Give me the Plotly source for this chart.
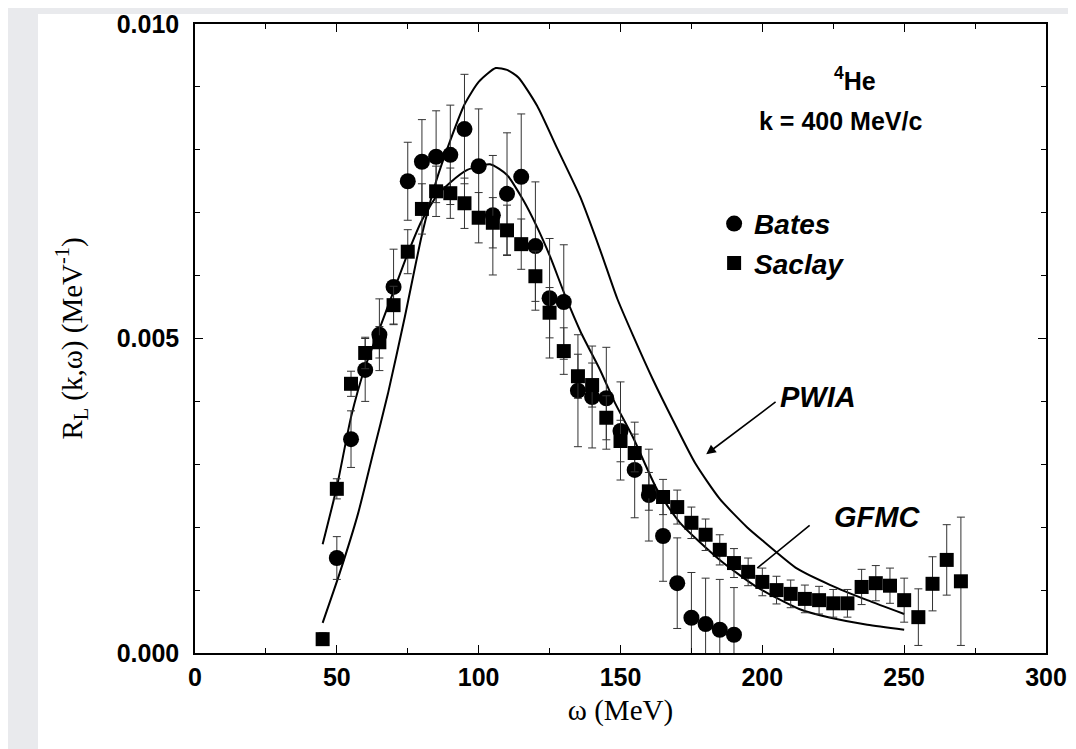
import plotly.graph_objects as go

# ---------------- data ----------------
bates_w = [50, 55, 60, 65, 70, 75, 80, 85, 90, 95, 100, 105, 110, 115, 120, 125, 130,
           135, 140, 145, 150, 155, 160, 165, 170, 175, 180, 185, 190]
bates_r = [0.00151, 0.00340, 0.00450, 0.00506, 0.00582, 0.00750, 0.00781, 0.00789,
           0.00792, 0.00833, 0.00774, 0.00696, 0.00730, 0.00757, 0.00647, 0.00564,
           0.00558, 0.00417, 0.00407, 0.00405, 0.00353, 0.00291, 0.00251, 0.00186,
           0.00111, 0.00056, 0.00046, 0.00037, 0.00029]
bates_err = [0.00034, 0.00045, 0.00050, 0.00057, 0.00060, 0.00062, 0.00067, 0.00073,
             0.00079, 0.00087, 0.00091, 0.00095, 0.00097, 0.00100, 0.00102, 0.00095,
             0.00091, 0.00089, 0.00081, 0.00081, 0.00078, 0.00076, 0.00073, 0.00072,
             0.00072, 0.00072, 0.00073, 0.00080, 0.00075]

saclay_w = [45, 50, 55, 60, 65, 70, 75, 80, 85, 90, 95, 100, 105, 110, 115, 120, 125,
            130, 135, 140, 145, 150, 155, 160, 165, 170, 175, 180, 185, 190, 195, 200,
            205, 210, 215, 220, 225, 230, 235, 240, 245, 250, 255, 260, 265, 270]
saclay_r = [0.00022, 0.00261, 0.00428, 0.00477, 0.00494, 0.00553, 0.00638, 0.00706,
            0.00734, 0.00731, 0.00715, 0.00692, 0.00684, 0.00672, 0.00650, 0.00599,
            0.00541, 0.00480, 0.00440, 0.00426, 0.00374, 0.00337, 0.00318, 0.00257,
            0.00248, 0.00232, 0.00207, 0.00188, 0.00164, 0.00143, 0.00129, 0.00113,
            0.00100, 0.00094, 0.00086, 0.00084, 0.00079, 0.00079, 0.00105, 0.00111,
            0.00107, 0.00084, 0.00057, 0.00110, 0.00148, 0.00114]
saclay_err = [0.00010, 0.00016, 0.00020, 0.00025, 0.00025, 0.00030, 0.00035, 0.00040,
              0.00040, 0.00040, 0.00040, 0.00040, 0.00040, 0.00040, 0.00040, 0.00040,
              0.00040, 0.00037, 0.00035, 0.00035, 0.00035, 0.00033, 0.00030, 0.00030,
              0.00028, 0.00027, 0.00025, 0.00025, 0.00024, 0.00023, 0.00022, 0.00022,
              0.00022, 0.00022, 0.00022, 0.00022, 0.00022, 0.00022, 0.00028, 0.00028,
              0.00028, 0.00035, 0.00045, 0.00043, 0.00056, 0.00102]

gfmc_w = [45, 50, 55, 60, 65, 70, 75, 80, 85, 90, 96, 104, 110, 115.7, 120.6, 125.2,
          130.5, 136, 142.8, 148, 154.4, 163, 171, 185, 198, 213, 224, 237, 250]
gfmc_r = [0.00173, 0.00264, 0.00375, 0.00455, 0.00515, 0.00575, 0.00635, 0.00688,
          0.00725, 0.00748, 0.00768, 0.00777, 0.00760, 0.00720, 0.00677, 0.00630,
          0.00568, 0.00510, 0.00450, 0.00398, 0.00343, 0.00259, 0.00207, 0.00148,
          0.00105, 0.00070, 0.00056, 0.00045, 0.00037]

pwia_w = [45, 51, 57.5, 62.8, 68, 74, 80, 85, 90, 95, 100, 106, 110, 114, 120.6, 127.6,
          135.8, 142.8, 148.8, 154.4, 161.5, 168.5, 176.3, 185, 194.6, 200.3, 212.3, 224,
          237, 250]
pwia_r = [0.00048, 0.00127, 0.00222, 0.00318, 0.00412, 0.00535, 0.00665, 0.00750,
          0.00815, 0.00872, 0.00908, 0.00930, 0.00927, 0.00915, 0.00870, 0.00803,
          0.00725, 0.00641, 0.00564, 0.00505, 0.00434, 0.00370, 0.00302, 0.00245,
          0.00200, 0.00178, 0.00134, 0.00108, 0.00084, 0.00062]

x_ticks = [0, 50, 100, 150, 200, 250, 300]
y_ticks = [0.000, 0.005, 0.010]

# ---------------- figure ----------------
fig = go.Figure()

line_style = dict(color="black", width=2, shape="spline", smoothing=0.6)
fig.add_trace(go.Scatter(x=pwia_w, y=pwia_r, mode="lines", line=line_style,
                         showlegend=False, hoverinfo="skip"))
fig.add_trace(go.Scatter(x=gfmc_w, y=gfmc_r, mode="lines", line=line_style,
                         showlegend=False, hoverinfo="skip"))

fig.add_trace(go.Scatter(
    x=bates_w, y=bates_r, mode="markers", name="Bates",
    marker=dict(symbol="circle", size=16, color="black"),
    error_y=dict(type="data", array=bates_err, color="#333333", thickness=1, width=4),
))
fig.add_trace(go.Scatter(
    x=saclay_w, y=saclay_r, mode="markers", name="Saclay",
    marker=dict(symbol="square", size=14, color="black"),
    error_y=dict(type="data", array=saclay_err, color="#333333", thickness=1, width=4),
))

tickfont = dict(family="Liberation Sans", size=25, color="black", weight="bold")
serif = dict(family="Liberation Serif", size=29, color="black")

fig.update_layout(
    width=1076, height=749,
    margin=dict(l=187, r=38, t=16, b=104),
    paper_bgcolor="#e9eaed",
    plot_bgcolor="white",
    legend=dict(x=0.61, y=0.722, xanchor="left", yanchor="top",
                bgcolor="rgba(0,0,0,0)",
                font=dict(family="Liberation Sans", size=28, color="black",
                          weight="bold", style="italic"),
                itemwidth=30, tracegroupgap=0),
    shapes=[dict(type="rect", xref="paper", yref="paper",
                 x0=-0.1845, x1=1.2, y0=-0.3, y1=1.016,
                 fillcolor="white", line=dict(width=0), layer="below")],
)

fig.update_xaxes(
    range=[0, 300], tickvals=x_ticks, ticktext=[str(v) for v in x_ticks],
    ticks="inside", ticklen=8, tickwidth=1.2, tickcolor="black",
    minor=dict(dtick=25, tick0=0, ticks="inside", ticklen=5, tickcolor="black"),
    showline=True, linecolor="black", linewidth=1.5, mirror="ticks",
    showgrid=False, zeroline=False, tickfont=tickfont, ticklabelstandoff=1,
    automargin=False,
    title=dict(text="ω (MeV)", font=serif, standoff=10),
)
fig.update_yaxes(
    range=[0, 0.010], tickvals=y_ticks, ticktext=[f"{v:.3f}" for v in y_ticks],
    ticks="inside", ticklen=8, tickwidth=1.2, tickcolor="black",
    minor=dict(dtick=0.001, tick0=0, ticks="inside", ticklen=5, tickcolor="black"),
    showline=True, linecolor="black", linewidth=1.5, mirror="ticks",
    showgrid=False, zeroline=False, tickfont=tickfont, ticklabelstandoff=9,
    automargin=False,
    title=dict(text="R<sub>L</sub> (k,ω) (MeV<sup>-1</sup>)", font=serif, standoff=26),
)

bold = dict(family="Liberation Sans", size=25, color="black")
bi = dict(family="Liberation Sans", size=29, color="black")


def note(x, y, text, font):
    fig.add_annotation(x=x, y=y, xref="paper", yref="paper", showarrow=False,
                       xanchor="center", yanchor="middle", text=text, font=font)


note(0.775, 0.913, "<b><sup>4</sup>He</b>", bold)
note(0.758, 0.846, "<b>k = 400 MeV/c</b>", bold)
note(0.732, 0.407, "<b><i>PWIA</i></b>", bi)
note(0.801, 0.216, "<b><i>GFMC</i></b>", bi)

# arrows
fig.add_annotation(x=180.2, y=0.00316, ax=205.2, ay=0.00401, xref="x", yref="y",
                   axref="x", ayref="y", text="", showarrow=True,
                   arrowhead=2, arrowsize=1.2, arrowwidth=1.6, arrowcolor="black")
fig.add_annotation(x=198.2, y=0.00135, ax=217.2, ay=0.00205, xref="x", yref="y",
                   axref="x", ayref="y", text="", showarrow=True,
                   arrowhead=0, arrowwidth=1.6, arrowcolor="black")

fig.write_html("out.html")
